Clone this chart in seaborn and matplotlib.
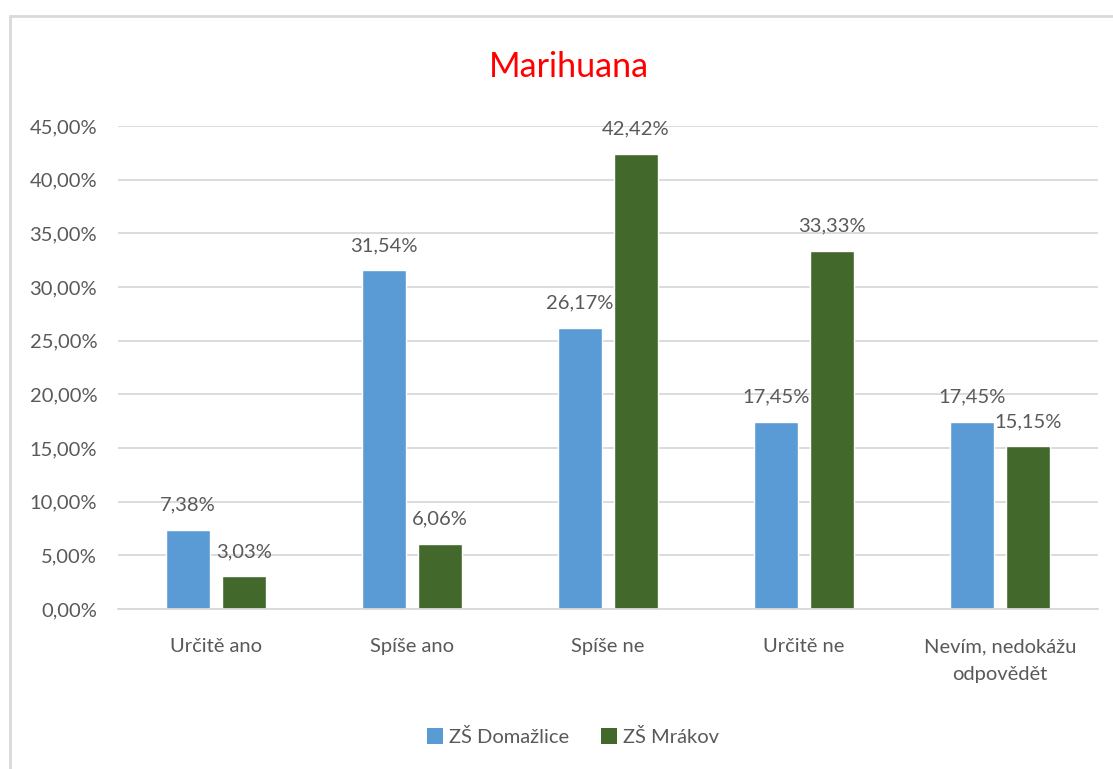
import matplotlib
matplotlib.use("Agg")
import matplotlib.pyplot as plt
import seaborn as sns
import pandas as pd
from matplotlib.lines import Line2D
from matplotlib.ticker import FuncFormatter, MultipleLocator
from matplotlib.patches import Patch

categories = ["Určitě ano", "Spíše ano", "Spíše ne", "Určitě ne", "Nevím, nedokážu\nodpovědět"]
series_names = ["ZŠ Domažlice", "ZŠ Mrákov"]
domazlice = [7.38, 31.54, 26.17, 17.45, 17.45]
mrakov = [3.03, 6.06, 42.42, 33.33, 15.15]
colors = ["#5B9BD5", "#43682B"]

sns.set_theme(style="white")
plt.rcParams['font.family'] = ['Lato', 'DejaVu Sans']
text_color = "#595959"
grid_color = "#D9D9D9"

df = pd.DataFrame({
    "cat": categories * 2,
    "school": [series_names[0]] * 5 + [series_names[1]] * 5,
    "value": domazlice + mrakov,
})

fig = plt.figure(figsize=(11.13, 7.69), dpi=100)
ax = fig.add_axes([118/1113, 1 - 609/769, (1098-118)/1113, (609-126)/769])

sns.barplot(data=df, x="cat", y="value", hue="school", order=categories,
            hue_order=series_names, palette=colors, width=0.57, gap=0.21,
            saturation=1, ax=ax, legend=False, errorbar=None)

ax.set_ylim(0, 45)
ax.set_xlim(-0.5, len(categories) - 0.5)
ax.yaxis.set_major_locator(MultipleLocator(5))
ax.yaxis.set_major_formatter(FuncFormatter(lambda v, p: f"{v:.2f}".replace(".", ",") + "%"))
ax.grid(axis="y", color=grid_color, linewidth=1.3)
ax.set_axisbelow(True)
for s in ["top", "right", "left"]:
    ax.spines[s].set_visible(False)
ax.spines["bottom"].set_color(grid_color)
ax.spines["bottom"].set_linewidth(1.3)
ax.tick_params(axis="y", length=0, pad=15, labelsize=14.5, labelcolor=text_color)
ax.tick_params(axis="x", length=0, pad=21, labelsize=14.5, labelcolor=text_color)
for lbl in ax.get_xticklabels():
    lbl.set_linespacing(1.75)
ax.set_xlabel("")
ax.set_ylabel("")

for container in ax.containers:
    for bar in container:
        h = bar.get_height()
        ax.annotate(f"{h:.2f}".replace(".", ",") + "%",
                    (bar.get_x() + bar.get_width() / 2, h),
                    xytext=(0, 14), textcoords="offset points",
                    ha="center", va="baseline", fontsize=14.5, color=text_color)

fig.text(569/1113, 1 - 67/769, "Marihuana", color="#FF0000",
         fontsize=24.5, ha="center", va="center")

handles = [Patch(facecolor=c, edgecolor="none") for c in colors]
fig.legend(handles, series_names, loc="center", bbox_to_anchor=(573/1113, 1 - 737/769),
           ncol=2, frameon=False, fontsize=14.5, labelcolor=text_color,
           handlelength=0.8, handleheight=0.8, handletextpad=0.3, columnspacing=1.6)

fig.add_artist(Line2D([10/1113, 1.0], [1 - 16/769, 1 - 16/769], color=grid_color, linewidth=2))
fig.add_artist(Line2D([10/1113, 10/1113], [0, 1 - 16/769], color=grid_color, linewidth=2))

fig.savefig("out.png", dpi=100, facecolor="white")
